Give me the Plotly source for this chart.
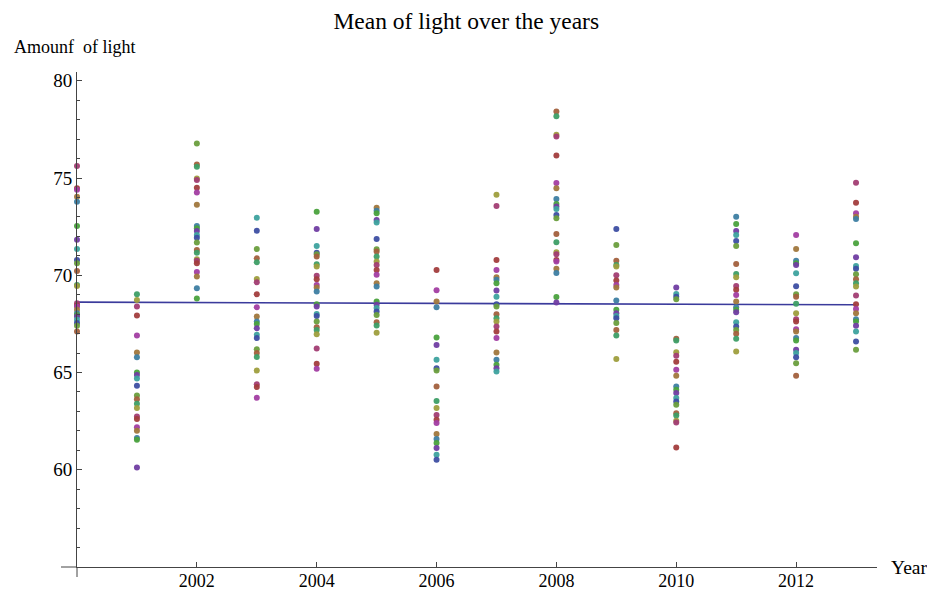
import plotly.graph_objects as go

years = [2000, 2001, 2002, 2003, 2004, 2005, 2006, 2007, 2008, 2009, 2010, 2011, 2012, 2013]

v2000 = [75.62, 74.47, 74.40, 74.04, 73.78, 72.53, 71.82, 71.35, 70.79, 70.62, 70.22, 69.50, 69.45,
         68.56, 68.45, 68.39, 68.22, 68.05, 67.95, 67.88, 67.71, 67.54, 67.40, 67.11]
v2001 = [69.02, 68.73, 68.39, 67.93, 66.90, 66.03, 65.79, 65.00, 64.87, 64.69, 64.32, 63.82, 63.63,
         63.39, 63.17, 62.74, 62.61, 62.18, 62.01, 61.63, 61.54, 60.12]
v2002 = [76.78, 75.70, 75.58, 74.98, 74.90, 74.50, 74.25, 73.63, 72.53, 72.42, 72.28, 72.07, 71.93,
         71.68, 71.30, 71.16, 70.82, 70.74, 70.62, 70.17, 69.93, 69.33, 68.80]
v2003 = [72.96, 72.29, 71.35, 70.87, 70.67, 69.81, 69.64, 69.02, 68.36, 67.88, 67.62, 67.50, 67.28,
         66.94, 66.77, 66.20, 66.00, 65.80, 65.10, 64.40, 64.25, 63.70]
v2004 = [73.27, 72.38, 71.51, 71.16, 71.08, 70.96, 70.57, 70.45, 69.97, 69.80, 69.50, 69.37, 69.16,
         68.51, 68.39, 68.01, 67.91, 67.62, 67.33, 67.19, 66.97, 66.23, 65.45, 65.19]
v2005 = [73.47, 73.31, 73.19, 72.84, 72.71, 71.87, 71.34, 71.22, 70.96, 70.71, 70.53, 70.27, 70.02,
         69.59, 69.42, 68.65, 68.48, 68.31, 68.14, 67.96, 67.59, 67.42, 67.05]
v2006 = [70.27, 69.23, 68.65, 68.36, 66.80, 66.42, 65.65, 65.22, 65.10, 64.28, 63.54, 63.17, 62.81,
         62.57, 62.40, 61.84, 61.58, 61.37, 61.12, 60.77, 60.52]
v2007 = [74.14, 73.56, 70.79, 70.27, 69.90, 69.77, 69.59, 69.21, 68.90, 68.51, 68.39, 67.99, 67.79,
         67.62, 67.36, 67.11, 66.77, 66.03, 65.65, 65.40, 65.22, 65.05]
v2008 = [78.42, 78.17, 77.23, 77.14, 76.16, 74.74, 74.47, 73.92, 73.66, 73.53, 73.41, 73.10, 72.93,
         72.12, 71.70, 71.18, 71.08, 70.79, 70.71, 70.33, 70.11, 68.88, 68.60]
v2009 = [72.38, 71.56, 70.74, 70.53, 70.45, 70.00, 69.73, 69.50, 69.37, 68.70, 68.22, 68.05, 67.91,
         67.79, 67.54, 67.19, 66.90, 65.70]
v2010 = [69.37, 69.04, 68.90, 68.77, 66.73, 66.64, 66.04, 65.86, 65.55, 65.14, 64.83, 64.28, 64.11,
         63.94, 63.69, 63.51, 63.34, 62.91, 62.79, 62.52, 62.43, 61.15]
v2011 = [73.01, 72.64, 72.28, 72.07, 71.76, 71.51, 70.58, 70.07, 69.90, 69.45, 69.25, 68.99, 68.65,
         68.36, 68.22, 68.10, 67.59, 67.36, 67.19, 66.99, 66.73, 66.08]
v2012 = [72.07, 71.35, 70.74, 70.62, 70.53, 70.10, 69.44, 69.02, 68.90, 68.54, 68.05, 67.74, 67.62,
         67.22, 67.11, 66.77, 66.64, 66.17, 66.00, 65.79, 65.48, 64.83]
v2013 = [74.76, 73.73, 73.19, 73.01, 72.89, 71.64, 70.93, 70.48, 70.33, 70.05, 69.80, 69.59, 69.42,
         68.96, 68.51, 68.27, 68.05, 67.74, 67.62, 67.40, 67.11, 66.59, 66.17]

values_by_year = [v2000, v2001, v2002, v2003, v2004, v2005, v2006, v2007, v2008, v2009,
                  v2010, v2011, v2012, v2013]

trend_years = [2000, 2013]
trend_values = [68.62, 68.48]

x_ticks = [2002, 2004, 2006, 2008, 2010, 2012]
y_ticks = [60, 65, 70, 75, 80]

palette = ["#a23d73", "#3d4ea2", "#a0773d", "#3d9e66", "#703da2", "#a23d3d", "#6a9e3d",
           "#3d7ea2", "#9e9e3d", "#3da29e", "#a23da2", "#a2603d", "#4aa23d"]

xs, ys, cs = [], [], []
for k, (yr, vals) in enumerate(zip(years, values_by_year)):
    for i, v in enumerate(vals):
        xs.append(yr)
        ys.append(v)
        cs.append(palette[(i * 5 + k * 3) % len(palette)])

serif = "Liberation Serif, Times New Roman, serif"

fig = go.Figure()
fig.add_trace(go.Scatter(x=trend_years, y=trend_values, mode="lines",
                         line=dict(color="#3b3b9c", width=1.6), hoverinfo="skip",
                         cliponaxis=False))
fig.add_trace(go.Scatter(x=xs, y=ys, mode="markers",
                         marker=dict(size=6, color=cs, opacity=0.95, line=dict(width=0)),
                         cliponaxis=False))

fig.update_layout(
    width=927, height=592,
    margin=dict(l=77, r=50, t=72, b=25, autoexpand=False),
    paper_bgcolor="white", plot_bgcolor="white",
    showlegend=False,
    font=dict(family=serif, color="black"),
    title=dict(text="Mean of light over the years", x=0.503, xanchor="center",
               y=1 - 21 / 592, yanchor="middle", font=dict(size=23.5, family=serif)),
    xaxis=dict(range=[2000, 2013.35], tickvals=x_ticks, ticktext=[str(t) for t in x_ticks],
               ticks="inside", ticklen=5, tickcolor="#444", showgrid=False, zeroline=False,
               showline=True, linecolor="#444", linewidth=1, ticklabelstandoff=-3,
               tickfont=dict(size=18, family=serif), automargin=False),
    yaxis=dict(range=[55, 80.45], tickvals=y_ticks, ticktext=[str(t) for t in y_ticks],
               ticks="inside", ticklen=5, tickcolor="#444", showgrid=False, zeroline=False,
               showline=True, linecolor="#444", linewidth=1,
               minor=dict(dtick=1, tick0=55, ticks="inside", ticklen=3, tickcolor="#444"),
               tickfont=dict(size=19, family=serif), automargin=False),
    annotations=[
        dict(text="Amounf&nbsp;&nbsp;of light", xref="paper", yref="paper",
             x=-65 / 800, y=1 + 25 / 495, xanchor="left", yanchor="middle",
             showarrow=False, font=dict(size=18, family=serif)),
        dict(text="Year", xref="paper", yref="paper", x=1 + 12 / 800, y=0,
             xanchor="left", yanchor="middle", showarrow=False,
             font=dict(size=19.5, family=serif)),
    ],
    shapes=[
        dict(type="line", xref="paper", yref="paper", x0=-16 / 800, x1=0, y0=0, y1=0,
             line=dict(color="#444", width=1)),
        dict(type="line", xref="paper", yref="paper", x0=0, x1=0, y0=-10 / 495, y1=0,
             line=dict(color="#444", width=1)),
    ],
)

fig.write_html("out.html")
